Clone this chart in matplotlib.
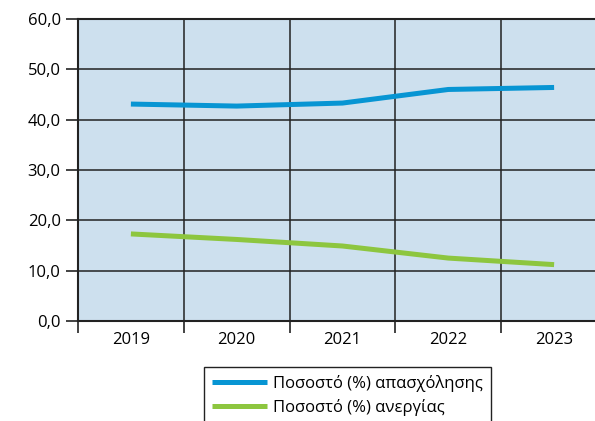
import matplotlib.pyplot as plt
import numpy as np

years = ["2019", "2020", "2021", "2022", "2023"]
employment = [43.1, 42.7, 43.3, 46.0, 46.4]
unemployment = [17.3, 16.2, 14.9, 12.5, 11.2]
y_ticks = [0, 10, 20, 30, 40, 50, 60]

plt.rcParams['font.family'] = ['Open Sans', 'DejaVu Sans']

fig = plt.figure(figsize=(5.95, 4.21), dpi=100)
ax = fig.add_axes([78 / 595, 1 - 321 / 421, 529 / 595, 302 / 421])
ax.set_facecolor('#cde0ee')

x = np.arange(len(years))
ax.plot(x, employment, color='#0795d3', lw=3.6, solid_capstyle='butt',
        solid_joinstyle='round', label='Ποσοστό (%) απασχόλησης', zorder=3)
ax.plot(x, unemployment, color='#8dc63f', lw=3.6, solid_capstyle='butt',
        solid_joinstyle='round', label='Ποσοστό (%) ανεργίας', zorder=3)

ax.set_xlim(-0.5, len(years) - 0.5)
ax.set_ylim(0, 60)
ax.set_yticks(y_ticks)
ax.set_yticklabels([f"{v:.1f}".replace('.', ',') for v in y_ticks], fontsize=12)
ax.set_xticks(np.arange(len(years) + 1) - 0.5)
ax.set_xticklabels([])
ax.set_xticks(x, minor=True)
ax.set_xticklabels(years, minor=True, fontsize=12)
ax.tick_params(axis='x', which='minor', length=0, pad=8)
ax.tick_params(axis='x', which='major', length=8.5, width=1.2, color='#222222')
ax.tick_params(axis='y', length=8.5, width=1.2, color='#222222', pad=4)
ax.grid(True, color='#222222', lw=1.1, zorder=1)
ax.set_axisbelow(True)
for s in ax.spines.values():
    s.set_color('#222222')
    s.set_linewidth(1.5)

fig.legend(loc='upper left', bbox_to_anchor=(204 / 595, 1 - 367 / 421),
           borderaxespad=0, fancybox=False, edgecolor='#222222', framealpha=1,
           fontsize=12, handlelength=3.3, handletextpad=0.4,
           labelspacing=0.45, borderpad=0.45)

fig.savefig('out.png', dpi=100)
